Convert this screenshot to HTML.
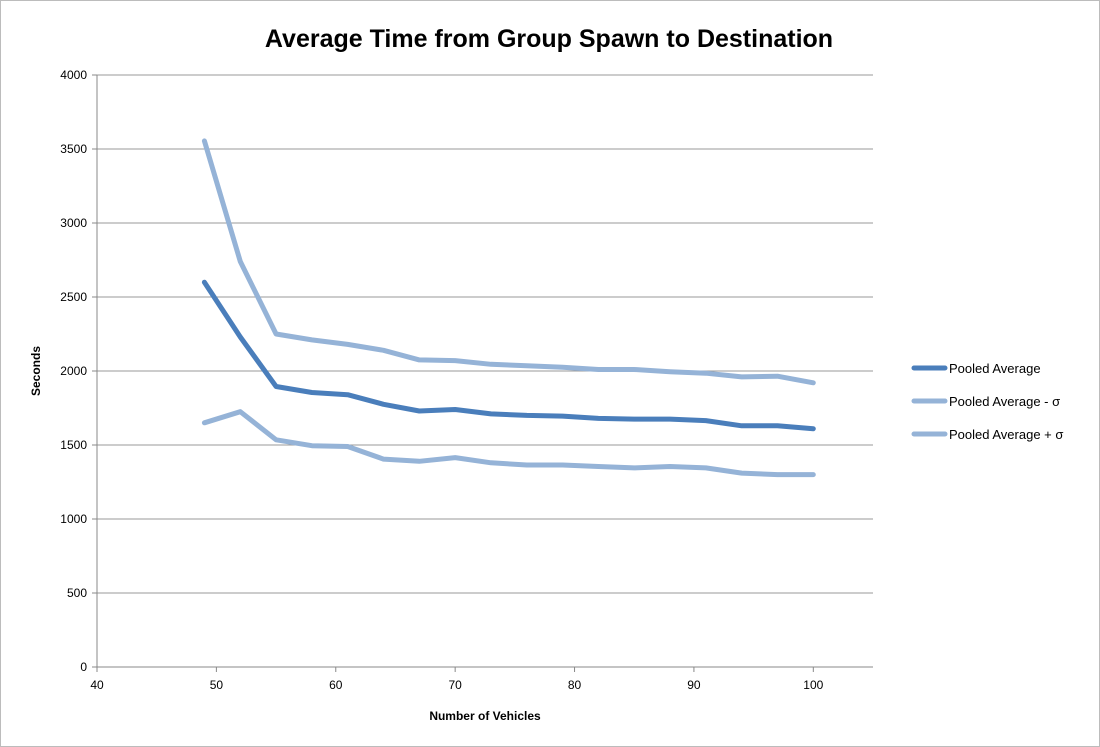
<!DOCTYPE html>
<html><head><meta charset="utf-8"><style>
body{margin:0;background:#fff;}
svg{display:block;font-family:"Liberation Sans",sans-serif;}
</style></head><body>
<svg id="chart" width="1100" height="747">
<rect x="0.5" y="0.5" width="1099" height="746" fill="#fff" stroke="#bcbcbc"/>
<text x="549" y="47" text-anchor="middle" font-size="25" font-weight="bold" fill="#000">Average Time from Group Spawn to Destination</text>
<g id="grid"></g><g id="axes"></g><g id="series"></g>
<text transform="translate(40,371) rotate(-90)" text-anchor="middle" font-size="12" font-weight="bold">Seconds</text>
<text x="485" y="720" text-anchor="middle" font-size="12" font-weight="bold">Number of Vehicles</text>
<g>
<line x1="914" y1="368" x2="945" y2="368" stroke="#4a7ebb" stroke-width="5" stroke-linecap="round"/>
<text x="949" y="373" font-size="13">Pooled Average</text>
<line x1="914" y1="401" x2="945" y2="401" stroke="#95b3d7" stroke-width="5" stroke-linecap="round"/>
<text x="949" y="406" font-size="13">Pooled Average - σ</text>
<line x1="914" y1="434" x2="945" y2="434" stroke="#95b3d7" stroke-width="5" stroke-linecap="round"/>
<text x="949" y="439" font-size="13">Pooled Average + σ</text>
</g>
</svg>
<script>
const xValues=[49,52,55,58,61,64,67,70,73,76,79,82,85,88,91,94,97,100];
const avgValues=[2600,2230,1895,1855,1840,1775,1730,1740,1710,1700,1695,1680,1675,1675,1665,1630,1630,1610];
const upperValues=[3555,2740,2250,2210,2180,2140,2075,2070,2045,2035,2025,2010,2010,1995,1985,1960,1965,1920];
const lowerValues=[1650,1725,1535,1495,1490,1405,1390,1415,1380,1365,1365,1355,1345,1355,1345,1310,1300,1300];
const yTicks=[0,500,1000,1500,2000,2500,3000,3500,4000];
const xTicks=[40,50,60,70,80,90,100];
const NS="http://www.w3.org/2000/svg";
const L=97,R=873,T=75,B=667,xMin=40,xMax=105,yMax=4000;
const xs=v=>L+(v-xMin)/(xMax-xMin)*(R-L);
const ys=v=>B-v/yMax*(B-T);
function mk(t,a,p){const e=document.createElementNS(NS,t);for(const k in a)e.setAttribute(k,a[k]);p.appendChild(e);return e;}
const grid=document.getElementById('grid'),axes=document.getElementById('axes'),ser=document.getElementById('series');
yTicks.forEach(v=>{
 const l=mk('line',{x1:L,x2:R,y1:ys(v),y2:ys(v),stroke:v===0?'#888':'#999','stroke-width':1},grid);
 
 
 const tk=mk('line',{x1:L-5,x2:L,y1:ys(v),y2:ys(v),stroke:'#888'},axes);
 
 
 const t=mk('text',{x:L-10,y:ys(v)+4,'text-anchor':'end','font-size':12},axes);t.textContent=v;
 
 
});
const ya=mk('line',{x1:L,x2:L,y1:T,y2:B,stroke:'#888'},axes);


xTicks.forEach(v=>{
 const tk=mk('line',{x1:xs(v),x2:xs(v),y1:B,y2:B+5,stroke:'#888'},axes);
 
 
 const t=mk('text',{x:xs(v),y:B+22,'text-anchor':'middle','font-size':12},axes);t.textContent=v;
 
 
});
function line(vals,color,name){
 const d=vals.map((v,i)=>(i?'L':'M')+xs(xValues[i]).toFixed(1)+','+ys(v).toFixed(1)).join('');
 const p=mk('path',{d:d,fill:'none',stroke:color,'stroke-width':5,'stroke-linejoin':'round','stroke-linecap':'round'},ser);
 
 
}
line(lowerValues,'#95b3d7','series-plus-sigma');
line(upperValues,'#95b3d7','series-minus-sigma');
line(avgValues,'#4a7ebb','series-pooled-average');
</script>
</body></html>
